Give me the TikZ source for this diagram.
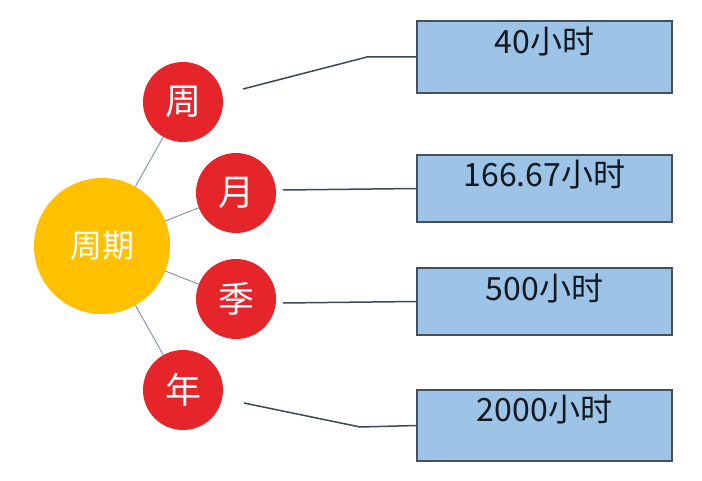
\documentclass[tikz,border=0pt]{standalone}
\usepackage{fontspec}
\setmainfont{Noto Sans CJK SC}
\definecolor{cred}{HTML}{E5252A}
\definecolor{cyel}{HTML}{FFC000}
\definecolor{cbox}{HTML}{9DC3E6}
\definecolor{cedge}{HTML}{44505E}
\definecolor{cspoke}{HTML}{7F8FA6}
\definecolor{ctxt}{HTML}{111820}
\tikzset{
  redc/.style={circle,fill=cred,text=white,minimum size=80pt,inner sep=0pt,font=\fontsize{36}{42}\selectfont},
  yelc/.style={circle,fill=cyel,text=white,minimum size=136pt,inner sep=0pt,font=\fontsize{32}{38}\selectfont},
  valbox/.style={draw=cedge,line width=1.3pt,fill=cbox,minimum width=255pt,inner sep=0pt},
  valtxt/.style={text=ctxt,inner sep=0pt,font=\fontsize{32}{38}\selectfont},
  spoke/.style={draw=cspoke,line width=0.9pt},
  link/.style={draw=cedge!90!black,line width=1.5pt},
}
\begin{document}
\begin{tikzpicture}[x=1pt,y=-1pt]
\useasboundingbox (0,0) rectangle (702,481);
\fill[white] (0,0) rectangle (702,481);
% circles
\node[yelc] (c0) at (102,246) {周期};
\node[redc] (c1) at (183,102) {周};
\node[redc] (c2) at (236,193) {月};
\node[redc] (c3) at (236,299) {季};
\node[redc] (c4) at (183,390) {年};
% spokes
\path[spoke] (c0) -- (c1);
\path[spoke] (c0) -- (c2);
\path[spoke] (c0) -- (c3);
\path[spoke] (c0) -- (c4);
% boxes
\node[valbox,minimum height=72pt] (b1) at (544.5,57) {};
\node[valbox,minimum height=67pt] (b2) at (544.5,188.5) {};
\node[valbox,minimum height=67pt] (b3) at (544.5,301.5) {};
\node[valbox,minimum height=71pt] (b4) at (544.5,425.5) {};
\node[valtxt] (t1) at ([yshift=-21pt]b1.north) {40小时};
\node[valtxt] (t2) at ([yshift=-20pt]b2.north) {166.67小时};
\node[valtxt] (t3) at ([yshift=-21pt]b3.north) {500小时};
\node[valtxt] (t4) at ([yshift=-20pt]b4.north) {2000小时};
% connectors
\coordinate (s1) at (243,89);
\coordinate (k1) at (367,57);
\coordinate (s2) at (283,190);
\coordinate (s3) at (283,303);
\coordinate (s4) at (244,403);
\coordinate (k4) at (360,427);
\path[link] (s1) -- (k1) -- (b1.west);
\path[link] (s2) -- (b2.west);
\path[link] (s3) -- (b3.west);
\path[link] (s4) -- (k4) -- (b4.west);
\end{tikzpicture}
\end{document}
